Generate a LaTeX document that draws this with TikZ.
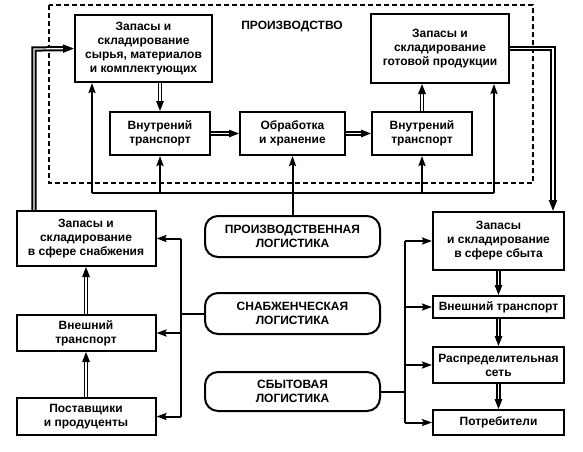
\documentclass[tikz,border=0pt]{standalone}
\usepackage{fontspec}
\setmainfont{Liberation Sans}
\usetikzlibrary{arrows.meta}

\begin{document}
\begin{tikzpicture}[x=1pt, y=-1pt, line width=2pt,
  font=\bfseries\fontsize{12}{14}\selectfont,
  box/.style={draw, align=center, inner sep=1pt},
  oval/.style={draw, align=center, rounded corners=13pt, minimum width=175pt, minimum height=41pt},
  arr/.style={-{Stealth[length=10pt, width=7pt, inset=1.5pt]}},
  dbl/.style={double, double distance=1.6pt, line width=1.4pt, -{Triangle[length=10pt, width=7.5pt]}},
  outer/.style={double, double distance=1.2pt, line width=2pt, -{Triangle[length=11pt, width=8pt]}}]
  \useasboundingbox (0,0) rectangle (583,451); % поля как у оригинала
  \draw[line width=1.6pt, dash pattern=on 5pt off 3pt] (49,5) rectangle (533,183);
  \node (prodTitle) at (292,27) {ПРОИЗВОДСТВО};

  \node[box, minimum width=137pt, minimum height=67pt] (stockIn) at (143.5,48.5) {Запасы и\\складирование\\сырья, материалов\\и комплектующих};
  \node[box, minimum width=138pt, minimum height=69pt] (stockOut) at (440,48.5) {Запасы и\\складирование\\готовой продукции};
  \node[box, minimum width=100pt, minimum height=43pt] (trIn) at (160,133.5) {Внутрений\\транспорт};
  \node[box, minimum width=105pt, minimum height=43pt] (proc) at (292.5,133.5) {Обработка\\и хранение};
  \node[box, minimum width=100pt, minimum height=43pt] (trOut) at (422,133.5) {Внутрений\\транспорт};

  \node[box, minimum width=139pt, minimum height=55pt] (supStock) at (86,238.5) {Запасы и\\складирование\\в сфере снабжения};
  \node[box, minimum width=139pt, minimum height=36pt] (supTr) at (86,333) {Внешний\\транспорт};
  \node[box, minimum width=139pt, minimum height=37pt] (suppliers) at (86,416.5) {Поставщики\\и продуценты};

  \node[oval] (prodLog) at (292.5,236.5) {ПРОИЗВОДСТВЕННАЯ\\ЛОГИСТИКА};
  \node[oval] (supLog) at (292.5,313.5) {СНАБЖЕНЧЕСКАЯ\\ЛОГИСТИКА};
  \node[oval, minimum height=39pt] (salLog) at (292.5,391.5) {СБЫТОВАЯ\\ЛОГИСТИКА};

  \node[box, minimum width=131pt, minimum height=58pt] (salStock) at (498.5,241) {Запасы\\и складирование\\в сфере сбыта};
  \node[box, minimum width=131pt, minimum height=22pt] (salTr) at (498.5,307) {Внешний транспорт};
  \node[box, minimum width=131pt, minimum height=36pt] (distNet) at (498.5,365) {Распределительная\\сеть};
  \node[box, minimum width=131pt, minimum height=25pt] (consumers) at (498.5,422.5) {Потребители};

  % производственная логистика
  \coordinate (pbusL) at (92,193);
  \coordinate (pbusR) at (494,193);
  \draw (pbusL) -- (pbusR);
  \draw[arr] (pbusL) -- (pbusL |- stockIn.south);
  \draw[arr] (trIn.south |- pbusL) -- (trIn.south);
  \draw[arr] (proc.south |- pbusL) -- (proc.south);
  \draw[arr] (trOut.south |- pbusL) -- (trOut.south);
  \draw[arr] (pbusR) -- (pbusR |- stockOut.south);
  \draw (proc.south |- pbusL) -- (prodLog.north);

  \draw[dbl] (trIn.north |- stockIn.south) -- (trIn.north);
  \draw[dbl] (trIn.east) -- (proc.west);
  \draw[dbl] (proc.east) -- (trOut.west);
  \draw[dbl] (trOut.north) -- (trOut.north |- stockOut.south);

  \coordinate (outL) at (34,49);
  \coordinate (outR) at (553,48.5);
  \draw[outer] (outL |- supStock.north) -- (outL) -- (stockIn.west);
  \draw[outer] (stockOut.east) -- (outR) -- (outR |- salStock.north);

  % снабженческая логистика
  \coordinate (lbus) at (181,315);
  \draw (supStock.east -| lbus) -- (suppliers.east -| lbus);
  \draw (supLog.west) -- (supLog.west -| lbus);
  \draw[arr] (supStock.east -| lbus) -- (supStock.east);
  \draw[arr] (supTr.east -| lbus) -- (supTr.east);
  \draw[arr] (suppliers.east -| lbus) -- (suppliers.east);
  \draw[dbl] (suppliers.north) -- (supTr.south);
  \draw[dbl] (supTr.north) -- (supStock.south);

  % сбытовая логистика
  \coordinate (rbus) at (405,391.5);
  \draw (salStock.west -| rbus) -- (consumers.west -| rbus);
  \draw (salLog.east) -- (salLog.east -| rbus);
  \draw[arr] (salStock.west -| rbus) -- (salStock.west);
  \draw[arr] (salTr.west -| rbus) -- (salTr.west);
  \draw[arr] (distNet.west -| rbus) -- (distNet.west);
  \draw[arr] (consumers.west -| rbus) -- (consumers.west);
  \draw[dbl] (salStock.south) -- (salTr.north);
  \draw[dbl] (salTr.south) -- (distNet.north);
  \draw[dbl] (distNet.south) -- (consumers.north);
\end{tikzpicture}
\end{document}
